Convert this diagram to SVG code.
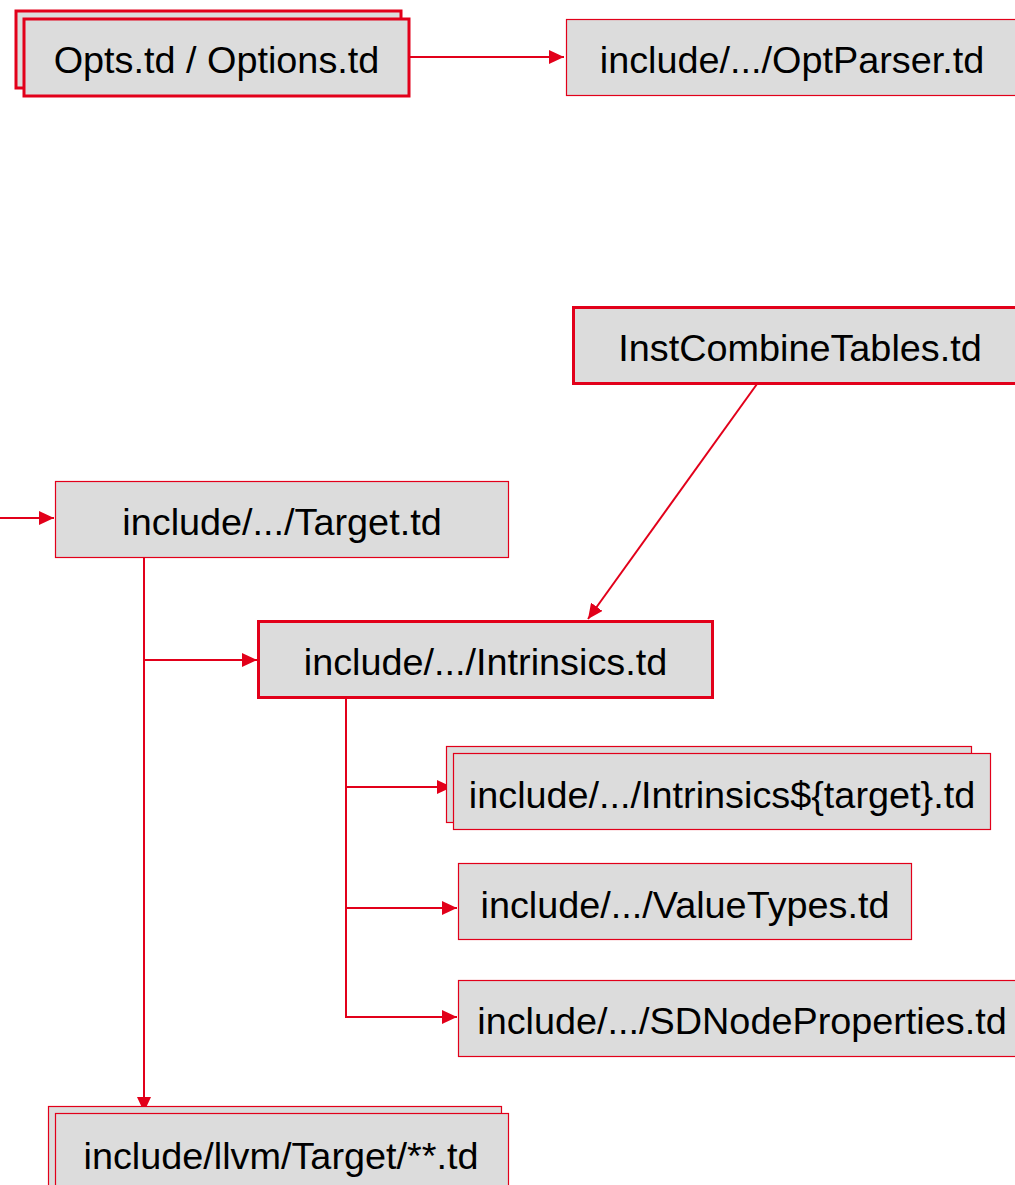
<svg xmlns="http://www.w3.org/2000/svg" width="1015" height="1185" viewBox="0 0 1015 1185">
<style>
.box{fill:#dcdcdc;stroke:#e2001a;stroke-width:1.2}
.thick{stroke-width:3}
.lbl{font-family:"Liberation Sans",Arial,sans-serif;font-size:37.8px;fill:#000;text-anchor:middle}
.edge{fill:none;stroke:#e2001a;stroke-width:2}
</style>
<defs>
<marker id="ah" markerUnits="userSpaceOnUse" markerWidth="16" markerHeight="14" refX="15" refY="7" orient="auto">
<path d="M0,0 L15,7 L0,14 Z" fill="#e2001a"/>
</marker>
</defs>
<rect width="1015" height="1185" fill="#fff"/>
<g id="connectors">
<path class="edge" d="M409,57 H564" marker-end="url(#ah)"/>
<path class="edge" d="M0,518 H54" marker-end="url(#ah)"/>
<path class="edge" d="M757,384 L588,619" marker-end="url(#ah)"/>
<path class="edge" d="M144,557 V1112" marker-end="url(#ah)"/>
<path class="edge" d="M144,660 H257" marker-end="url(#ah)"/>
<path class="edge" d="M346,698 V1017 H457" marker-end="url(#ah)"/>
<path class="edge" d="M346,787 H452" marker-end="url(#ah)"/>
<path class="edge" d="M346,908 H457" marker-end="url(#ah)"/>
</g>
<g id="opts">
<rect class="box thick" x="16" y="11" width="385" height="77"/>
<rect class="box thick" x="24" y="19" width="385" height="77"/>
<text class="lbl" x="216.5" y="73">Opts.td / Options.td</text>
</g>
<g id="optparser">
<rect class="box" x="566.5" y="19.5" width="452" height="76"/>
<text class="lbl" x="792" y="73">include/.../OptParser.td</text>
</g>
<g id="instcombine">
<rect class="box thick" x="573.5" y="307.5" width="454" height="76"/>
<text class="lbl" x="800" y="361">InstCombineTables.td</text>
</g>
<g id="target">
<rect class="box" x="55.5" y="481.5" width="453" height="76"/>
<text class="lbl" x="282" y="535">include/.../Target.td</text>
</g>
<g id="intrinsics">
<rect class="box thick" x="258.5" y="621.5" width="454" height="76"/>
<text class="lbl" x="485.5" y="675">include/.../Intrinsics.td</text>
</g>
<g id="intrinsics-target">
<rect class="box" x="446.5" y="746.5" width="525" height="76"/>
<rect class="box" x="453.5" y="753.5" width="537" height="76"/>
<text class="lbl" x="722" y="808">include/.../Intrinsics${target}.td</text>
</g>
<g id="valuetypes">
<rect class="box" x="458.5" y="863.5" width="453" height="76"/>
<text class="lbl" x="685" y="918">include/.../ValueTypes.td</text>
</g>
<g id="sdnode">
<rect class="box" x="458.5" y="980.5" width="568" height="76"/>
<text class="lbl" x="742" y="1034">include/.../SDNodeProperties.td</text>
</g>
<g id="llvm-target">
<rect class="box" x="48.5" y="1106.5" width="453" height="90"/>
<rect class="box" x="55.5" y="1113.5" width="453" height="90"/>
<text class="lbl" x="281" y="1169">include/llvm/Target/**.td</text>
</g>
</svg>
